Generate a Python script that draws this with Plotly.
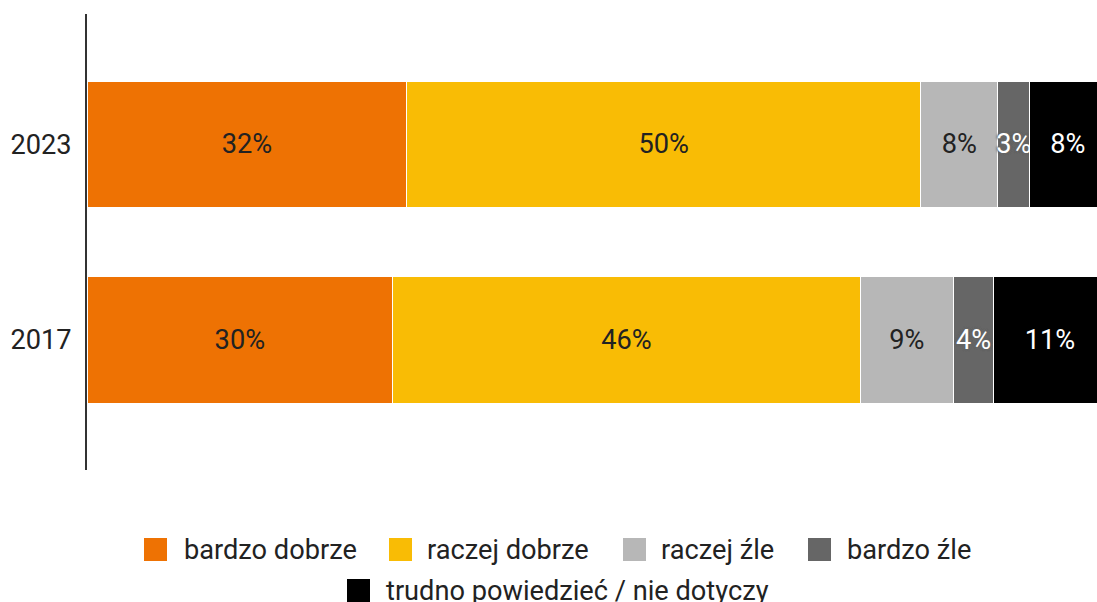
import plotly.graph_objects as go

years = ["2017", "2023"]
categories = ["bardzo dobrze", "raczej dobrze", "raczej źle", "bardzo źle",
              "trudno powiedzieć / nie dotyczy"]
# values per category: [2017, 2023]
bardzo_dobrze = [30.0, 31.4]
raczej_dobrze = [45.9, 50.4]
raczej_zle = [9.1, 7.6]
bardzo_zle = [4.0, 3.1]
trudno = [11.0, 7.5]
# printed labels
labels_bardzo_dobrze = ["30%", "32%"]
labels_raczej_dobrze = ["46%", "50%"]
labels_raczej_zle = ["9%", "8%"]
labels_bardzo_zle = ["4%", "3%"]
labels_trudno = ["11%", "8%"]

series = [bardzo_dobrze, raczej_dobrze, raczej_zle, bardzo_zle, trudno]
labels = [labels_bardzo_dobrze, labels_raczej_dobrze, labels_raczej_zle,
          labels_bardzo_zle, labels_trudno]
colors = ["#EE7203", "#F9BC05", "#B7B7B7", "#666666", "#000000"]
text_colors = ["#222222", "#222222", "#222222", "#FFFFFF", "#FFFFFF"]

FONT = "Roboto"
FS = 27.2
W, H = 1097, 602
L, R, T, B = 87, 0, 14, 132

fig = go.Figure()
for i, (name, vals, lab) in enumerate(zip(categories, series, labels)):
    tf = dict(family=FONT, size=FS, color=text_colors[i])
    if i == 3:
        tf["shadow"] = ("0px 0px 2px #666666, 0px 0px 2px #666666, "
                        "0px 0px 3px #666666, 0px 0px 3px #666666")
    fig.add_trace(go.Bar(
        y=years, x=vals, name=name, orientation="h",
        marker=dict(color=colors[i], line=dict(color="#FFFFFF", width=1)),
        text=lab, texttemplate="%{text}", textposition="inside",
        insidetextanchor="middle", constraintext="none", textangle=0,
        textfont=tf, hoverinfo="skip", showlegend=False,
    ))

# manual legend (centered rows); pixel positions in the page
pw, ph = W - L - R, H - T - B
def px(xpix):
    return (xpix - L) / pw
def py(ypix):
    return (H - B - ypix) / ph

legend_pos = [  # (square left x, row center y, text left x)
    (144, 549.5, 182), (389, 549.5, 425), (623, 549.5, 659), (808, 549.5, 845),
    (347, 590.5, 384),
]
sq = 23
for (sx, cy, tx), name, col in zip(legend_pos, categories, colors):
    fig.add_shape(type="rect", xref="paper", yref="paper",
                  x0=px(sx), x1=px(sx + sq), y0=py(cy + sq / 2), y1=py(cy - sq / 2),
                  fillcolor=col, line=dict(width=0), layer="above")
    fig.add_annotation(x=px(tx), y=py(cy), xref="paper", yref="paper",
                       text=name, showarrow=False, xanchor="left", yanchor="middle",
                       font=dict(family=FONT, size=FS, color="#222222"))

fig.update_layout(
    barmode="stack",
    bargap=0.349,
    width=W, height=H,
    margin=dict(l=L, r=R, t=T, b=B, pad=0),
    paper_bgcolor="white", plot_bgcolor="white",
    font=dict(family=FONT, size=FS, color="#222222"),
    showlegend=False,
    xaxis=dict(range=[0, 99.12], showgrid=False, zeroline=False,
               showticklabels=False, ticks="", fixedrange=True),
    yaxis=dict(type="category", range=[-0.669, 1.669], showgrid=False,
               showline=True, linecolor="#333333", linewidth=2,
               ticks="", ticklabelstandoff=8, zeroline=False, fixedrange=True,
               tickfont=dict(family=FONT, size=FS, color="#222222")),
)

fig.write_html(
    "out.html",
    config={"displayModeBar": False, "staticPlot": True},
    post_script="document.body.style.margin='0';document.body.style.overflow='hidden';",
)
